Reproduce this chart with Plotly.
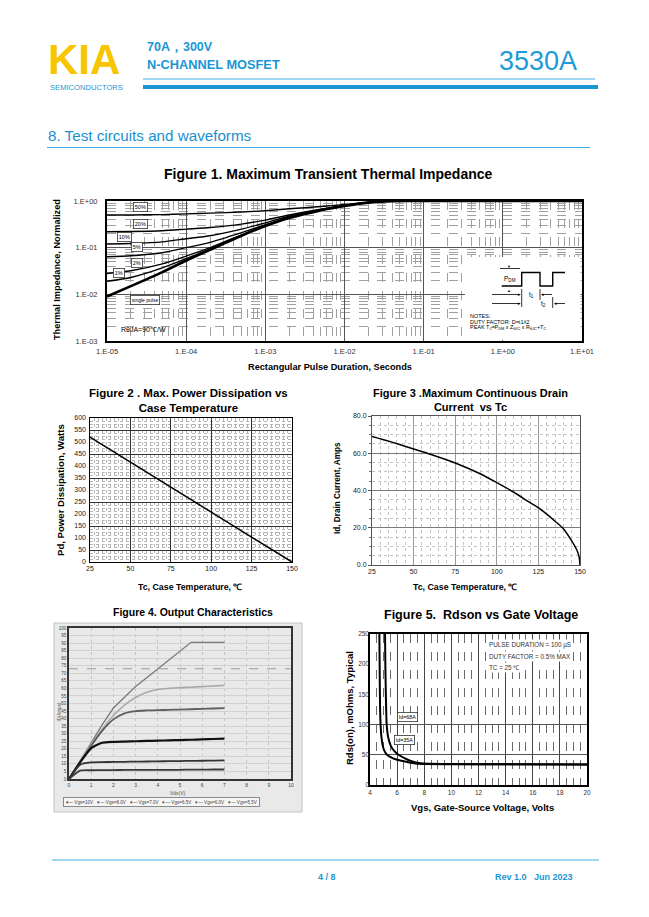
import plotly.graph_objects as go

# The page body keeps the browser's default 8px margin, so the figure is drawn
# 8px in from the window's corner; size and map it so that it fills the window.
OFF = 8
W, H = 649 - OFF, 917 - OFF
SANS = "Liberation Sans, Arial, sans-serif"
BLUE = "#1a96d4"
LBLUE = "#3aaee0"


def px(x):
    return (x - OFF) / W


def py(y):
    return 1 - (y - OFF) / H


# ---------------- DATA ----------------
# Figure 1: transient thermal impedance (normalized) vs pulse duration
f1_t = [1e-5, 2e-5, 5e-5, 1e-4, 2e-4, 5e-4, 1e-3, 2e-3, 5e-3, 1e-2, 2e-2, 4e-2, 1e-1, 1e0, 1e1]
f1_single = [0.009, 0.015, 0.030, 0.053, 0.090, 0.180, 0.290, 0.430, 0.630, 0.780, 0.920, 0.995, 1.0, 1.0, 1.0]
f1_d01 = [0.019, 0.023, 0.037, 0.058, 0.094, 0.183, 0.292, 0.432, 0.632, 0.782, 0.922, 0.995, 1.0, 1.0, 1.0]
f1_d02 = [0.028, 0.032, 0.045, 0.066, 0.100, 0.188, 0.296, 0.436, 0.635, 0.785, 0.924, 0.995, 1.0, 1.0, 1.0]
f1_d05 = [0.064, 0.067, 0.078, 0.100, 0.130, 0.210, 0.310, 0.445, 0.642, 0.790, 0.927, 0.995, 1.0, 1.0, 1.0]
f1_d10 = [0.120, 0.123, 0.133, 0.155, 0.180, 0.250, 0.340, 0.470, 0.655, 0.798, 0.930, 0.995, 1.0, 1.0, 1.0]
f1_d20 = [0.220, 0.222, 0.231, 0.250, 0.270, 0.320, 0.390, 0.500, 0.670, 0.808, 0.935, 0.995, 1.0, 1.0, 1.0]
f1_d50 = [0.500, 0.502, 0.511, 0.530, 0.550, 0.580, 0.620, 0.680, 0.760, 0.840, 0.950, 0.998, 1.0, 1.0, 1.0]
f1_xtickvals = [1e-5, 1e-4, 1e-3, 1e-2, 1e-1, 1e0, 1e1]
f1_xticktext = ["1.E-05", "1.E-04", "1.E-03", "1.E-02", "1.E-01", "1.E+00", "1.E+01"]
f1_ytickvals = [1e-3, 1e-2, 1e-1, 1e0]
f1_yticktext = ["1.E-03", "1.E-02", "1.E-01", "1.E+00"]

# Figure 2: max power dissipation vs case temperature
f2_tc = [25, 150]
f2_pd = [520, 0]
f2_xticks = [25, 50, 75, 100, 125, 150]
f2_yticks = [0, 50, 100, 150, 200, 250, 300, 350, 400, 450, 500, 550, 600]
f2_solid_grid = [50, 150, 250, 350, 450, 550]

# Figure 3: max continuous drain current vs Tc
f3_tc = [25, 35, 50, 60, 75, 90, 100, 110, 120, 125, 130, 135, 140, 145, 148, 149.5, 150]
f3_id = [69, 66.5, 62.3, 59.5, 54.8, 49, 44.2, 39.2, 33.5, 30.8, 27.3, 23.5, 19.5, 13, 8.3, 4.2, 0]
f3_xticks = [25, 50, 75, 100, 125, 150]
f3_yticks = [0, 20, 40, 60, 80]

# Figure 4: output characteristics
f4_vds = [0, 0.5, 1, 1.5, 2, 2.5, 3, 3.5, 4, 4.5, 5, 5.5, 6, 6.5, 7]
f4_c1 = [0, 12, 24, 36, 47, 54.5, 61.3, 67, 72.8, 78.5, 84.5, 90.5, 90.5, 90.5, 90.5]
f4_c2 = [0, 11.5, 23, 33, 42, 49, 54, 57.5, 59.3, 60, 60.5, 60.8, 61.2, 61.6, 62]
f4_c3 = [0, 11, 22, 32, 39.5, 43.5, 45, 45.4, 45.6, 45.8, 46, 46.2, 46.5, 46.7, 47]
f4_c4 = [0, 11, 20.5, 24, 24.6, 24.8, 25, 25.2, 25.4, 25.6, 25.8, 26, 26.2, 26.5, 26.7]
f4_c5 = [0, 9.5, 11, 11.2, 11.3, 11.4, 11.5, 11.6, 11.7, 11.8, 11.9, 12, 12.1, 12.2, 12.3]
f4_c6 = [0, 5.5, 5.8, 5.9, 5.9, 6, 6, 6, 6.1, 6.1, 6.1, 6.2, 6.2, 6.3, 6.3]
f4_names = ["Vgs=10V", "Vgs=8.0V", "Vgs=7.0V", "Vgs=6.5V", "Vgs=6.0V", "Vgs=5.5V"]
f4_ref_x = [0, 10]
f4_ref_level = [73, 73]

# Figure 5: Rdson vs gate voltage
f5_vgs_a = [4.69, 4.71, 4.74, 4.78, 4.85, 5.0, 5.25, 5.7, 6.3, 7.0, 7.6, 10, 14, 20]
f5_r_a = [250, 200, 130, 100, 78, 60, 50, 44, 40, 37, 35, 34.5, 34.2, 34]
f5_vgs_b = [5.11, 5.13, 5.17, 5.23, 5.35, 5.55, 5.8, 6.1, 6.5, 7.0, 7.7, 10, 14, 20]
f5_r_b = [250, 200, 150, 100, 78, 64, 56, 50, 45, 40, 36, 34.6, 34.3, 34.1]
f5_solid_grid = [50, 100]

# ---------------- FIGURE ----------------
fig = go.Figure()


def add_line(x, y, xa, ya, color="black", width=1.5, dash="solid", shape="spline", name=None):
    fig.add_trace(go.Scatter(
        x=x, y=y, xaxis=xa, yaxis=ya, mode="lines", name=name,
        line=dict(color=color, width=width, dash=dash, shape=shape, smoothing=0.6),
        showlegend=False, hoverinfo="skip"))


def empty(xa, ya):
    fig.add_trace(go.Scatter(x=[None], y=[None], xaxis=xa, yaxis=ya, mode="lines",
                             showlegend=False, hoverinfo="skip"))


# Figure 1 traces
for ser, w in [(f1_d50, 1.4), (f1_d20, 1.4), (f1_d10, 1.4), (f1_d05, 1.4),
               (f1_d02, 1.4), (f1_d01, 1.4), (f1_single, 2.6)]:
    add_line(f1_t, ser, "x", "y", width=w)

# Figure 2
empty("x2", "y2")
add_line(f2_tc, f2_pd, "x2", "y6", width=1.5, shape="linear")

# Figure 3
add_line(f3_tc, f3_id, "x3", "y3", width=1.5)

# Figure 4
add_line(f4_ref_x, f4_ref_level, "x4", "y4", color="#9a9a9a", width=1, dash="dash", shape="linear")
add_line(f4_vds, f4_c1, "x4", "y4", color="#7a7a7a", width=1.3, shape="linear", name=f4_names[0])
add_line(f4_vds, f4_c2, "x4", "y4", color="#a9a9a9", width=1.6, name=f4_names[1])
add_line(f4_vds, f4_c3, "x4", "y4", color="#5e5e5e", width=1.8, name=f4_names[2])
add_line(f4_vds, f4_c4, "x4", "y4", color="#111111", width=2.2, name=f4_names[3])
add_line(f4_vds, f4_c5, "x4", "y4", color="#333333", width=1.8, name=f4_names[4])
add_line(f4_vds, f4_c6, "x4", "y4", color="#3a3a3a", width=1.8, name=f4_names[5])

# Figure 5
empty("x5", "y5")
add_line(f5_vgs_a, f5_r_a, "x5", "y7", width=2.0)
add_line(f5_vgs_b, f5_r_b, "x5", "y7", width=2.0)

tick_small = dict(family=SANS, size=7, color="#222")

layout = dict(
    template="none",
    width=W, height=H, autosize=False,
    margin=dict(l=0, r=0, t=0, b=0, pad=0, autoexpand=False),
    paper_bgcolor="white", plot_bgcolor="white",
    showlegend=False,
    font=dict(family=SANS, color="black"),
    # ---- Figure 1
    xaxis=dict(domain=[px(107), px(582)], anchor="y", type="log", range=[-5, 1], automargin=False,
               tickmode="array", tickvals=f1_xtickvals, ticktext=f1_xticktext,
               tickfont=dict(family=SANS, size=7.5, color="#333"), ticks="", ticklabelstandoff=2,
               showgrid=True, gridcolor="#555", gridwidth=1,
               minor=dict(dtick="D1", showgrid=True, gridcolor="#a0a0a0", griddash="dash", gridwidth=0.8),
               showline=True, linecolor="black", linewidth=2, mirror=True, zeroline=False),
    yaxis=dict(domain=[py(341), py(201)], anchor="x", type="log", range=[-3, 0], automargin=False,
               tickmode="array", tickvals=f1_ytickvals, ticktext=f1_yticktext,
               tickfont=dict(family=SANS, size=7.5, color="#333"), ticks="", ticklabelstandoff=6,
               showgrid=True, gridcolor="#555", gridwidth=1,
               minor=dict(dtick="D1", showgrid=True, gridcolor="#a0a0a0", griddash="dash", gridwidth=0.8),
               showline=True, linecolor="black", linewidth=2, mirror=True, zeroline=False),
    # ---- Figure 2
    xaxis2=dict(domain=[px(90), px(292)], anchor="y2", range=[25, 150], automargin=False,
                tickmode="array", tickvals=f2_xticks, tickfont=tick_small, ticks="",
                showgrid=True, gridcolor="#333", gridwidth=1,
                minor=dict(tick0=25, dtick=2.5, showgrid=True, gridcolor="#b4b4b4", griddash="dot", gridwidth=0.7),
                showline=True, linecolor="black", linewidth=1, mirror=True, zeroline=False),
    yaxis2=dict(domain=[py(562), py(418)], anchor="x2", range=[0, 600], automargin=False,
                tickmode="array", tickvals=f2_solid_grid, showticklabels=False, ticks="",
                showgrid=True, gridcolor="#333", gridwidth=1,
                minor=dict(tick0=0, dtick=12.5, showgrid=True, gridcolor="#b4b4b4", griddash="dot", gridwidth=0.7),
                showline=True, linecolor="black", linewidth=1, mirror=True, zeroline=False),
    yaxis6=dict(overlaying="y2", anchor="x2", side="left", range=[0, 600], automargin=False,
                tickmode="array", tickvals=f2_yticks, tickfont=tick_small, ticks="", ticklabelstandoff=3,
                showgrid=False, zeroline=False, showline=False),
    # ---- Figure 3
    xaxis3=dict(domain=[px(372), px(580)], anchor="y3", range=[25, 150], automargin=False,
                tickmode="array", tickvals=f3_xticks, tickfont=tick_small, ticks="",
                showgrid=True, gridcolor="#9a9a9a", gridwidth=1,
                minor=dict(tick0=25, dtick=5, showgrid=True, gridcolor="#c4c4c4", griddash="dot", gridwidth=0.8),
                showline=True, linecolor="#555", linewidth=1, mirror=True, zeroline=False),
    yaxis3=dict(domain=[py(565), py(416)], anchor="x3", range=[0, 80], automargin=False,
                tickmode="array", tickvals=f3_yticks, tickformat=".1f", tickfont=tick_small,
                ticks="outside", ticklen=3, tickcolor="#555",
                showgrid=True, gridcolor="#7a7a7a", gridwidth=1,
                minor=dict(tick0=0, dtick=5, showgrid=True, gridcolor="#c4c4c4", griddash="dot", gridwidth=0.8,
                           ticks="outside", ticklen=2, tickcolor="#777"),
                showline=True, linecolor="#555", linewidth=1, mirror=True, zeroline=False),
    # ---- Figure 4
    xaxis4=dict(domain=[px(69), px(291)], anchor="y4", range=[0, 10], dtick=1, automargin=False,
                tickfont=dict(family=SANS, size=5, color="#444"), ticks="",
                showgrid=True, gridcolor="#c4c4c4", griddash="dot", gridwidth=1,
                showline=True, linecolor="#333", linewidth=1.5, mirror=True, zeroline=False),
    yaxis4=dict(domain=[py(779), py(628)], anchor="x4", range=[0, 100], dtick=5, automargin=False,
                tickfont=dict(family=SANS, size=4.5, color="#444"), ticks="",
                showgrid=True, gridcolor="#d2d2d2", gridwidth=1,
                showline=True, linecolor="#333", linewidth=1.5, mirror=True, zeroline=False),
    # ---- Figure 5
    xaxis5=dict(domain=[px(370), px(587)], anchor="y5", range=[4, 20], tick0=4, dtick=2, automargin=False,
                tickfont=dict(family=SANS, size=6.5, color="#333"), ticks="",
                showgrid=True, gridcolor="#444", gridwidth=1,
                minor=dict(tick0=4, dtick=0.5, showgrid=True, gridcolor="#6a6a6a", griddash="dash", gridwidth=1),
                showline=True, linecolor="black", linewidth=2, mirror=True, zeroline=False),
    yaxis5=dict(domain=[py(785), py(634)], anchor="x5", range=[0, 250], automargin=False,
                tickmode="array", tickvals=f5_solid_grid, showticklabels=False, ticks="",
                showgrid=True, gridcolor="#555", gridwidth=1,
                showline=True, linecolor="black", linewidth=2, mirror=True, zeroline=False),
    yaxis7=dict(overlaying="y5", anchor="x5", side="left", range=[0, 250], dtick=50, automargin=False,
                tickfont=dict(family=SANS, size=6.5, color="#333"), ticks="",
                showgrid=False, zeroline=False, showline=False),
)

ann = []


def text(x, y, s, size, color="black", xanchor="center", yanchor="middle", angle=0, **kw):
    ann.append(dict(x=px(x), y=py(y), xref="paper", yref="paper", text=s, showarrow=False,
                    font=dict(family=SANS, size=size, color=color), xanchor=xanchor,
                    yanchor=yanchor, textangle=angle, **kw))


def boxed(x, y, s, size=5.5):
    text(x, y, s, size, bordercolor="#333", borderwidth=0.8, borderpad=1, bgcolor="white")


shapes = []


def hline(y, x0, x1, color, width, layer="above"):
    shapes.append(dict(type="line", xref="paper", yref="paper", x0=px(x0), x1=px(x1),
                       y0=py(y), y1=py(y), line=dict(color=color, width=width), layer=layer))


def vline(x, y0, y1, color="black", width=0.8):
    shapes.append(dict(type="line", xref="paper", yref="paper", x0=px(x), x1=px(x),
                       y0=py(y0), y1=py(y1), line=dict(color=color, width=width), layer="above"))


# ---- Header
text(46, 59, "<b>KIA</b>", 42, color="#f7c600", xanchor="left")
text(48, 87, "SEMICONDUCTORS", 7.6, color=BLUE, xanchor="left")
text(145, 47, "<b>70A，300V</b>", 12.5, color=BLUE, xanchor="left")
text(145, 64, "<b>N-CHANNEL MOSFET</b>", 12.8, color=BLUE, xanchor="left")
text(579, 61, "3530A", 27, color="#1e9bd7", xanchor="right")
hline(79, 143, 595, LBLUE, 1)
hline(87, 143, 598, BLUE, 4)
text(46, 136, "8. Test circuits and waveforms", 15.2, color="#1a8fd0", xanchor="left")
hline(147.5, 47, 590, LBLUE, 1)

# ---- Footer
hline(860, 52, 599, LBLUE, 1.2)
text(327, 877, "<b>4 / 8</b>", 9, color=BLUE)
text(575, 877, "<b>Rev 1.0   Jun 2023</b>", 9, color=BLUE, xanchor="right")

# ---- Figure 1 texts
text(328, 174, "<b>Figure 1. Maximum Transient Thermal Impedance</b>", 14)
text(57, 270, "<b>Thermal Impedance, Normalized</b>", 9.2, angle=-90)
text(330, 367, "<b>Rectangular Pulse Duration, Seconds</b>", 9.2)
boxed(140, 207, "50%")
boxed(140, 224, "20%")
boxed(124.5, 236.5, "10%")
boxed(136.5, 247, "5%")
boxed(137, 263, "2%")
boxed(118.5, 273, "1%")
boxed(144.5, 299.5, "single pulse", 5)
text(143, 330, "RθJA=90℃/W", 7)

# inset area of figure 1
shapes.append(dict(type="rect", xref="paper", yref="paper", x0=px(465), x1=px(580.5),
                   y0=py(340), y1=py(257), fillcolor="white", line=dict(width=0), layer="above"))
wave = [(501.7, 286), (521.7, 286), (521.7, 272.5), (540, 272.5), (540, 286),
        (552.7, 286), (552.7, 272.5), (565, 272.5)]
path = "M " + " L ".join(f"{px(a):.5f},{py(b):.5f}" for a, b in wave)
shapes.append(dict(type="path", xref="paper", yref="paper", path=path,
                   line=dict(color="black", width=1.4), layer="above"))
hline(268.5, 500, 520, "black", 0.8)
text(509.5, 266.5, "▼", 4)
text(509.5, 290, "▲", 4)
text(510, 279, "P<sub>DM</sub>", 6.5)
vline(521.7, 289, 307)
vline(540, 289, 300)
vline(552.7, 297, 308)
hline(294.5, 492, 520, "black", 0.8)
text(518.5, 294.5, "►", 4.5)
hline(294.5, 542, 552, "black", 0.8)
text(542, 294.5, "◄", 4.5)
hline(303.5, 492, 520, "black", 0.8)
text(518.5, 303.5, "►", 4.5)
hline(303.5, 555, 565, "black", 0.8)
text(555, 303.5, "◄", 4.5)
text(531, 294.5, "t<sub>1</sub>", 6.5)
text(543.5, 304, "t<sub>2</sub>", 6.5)
text(468, 316, "NOTES:", 5.5, xanchor="left")
text(468, 321.5, "DUTY FACTOR: D=t1/t2", 5.5, xanchor="left")
text(468, 327.5, "PEAK T<sub>J</sub>=P<sub>DM</sub> x Z<sub>θJC</sub> x R<sub>θJC</sub>+T<sub>C</sub>", 5.5,
     xanchor="left")

# ---- Figure 2 texts
text(188, 400, "<b>Figure 2 . Max. Power Dissipation vs<br>Case Temperature</b>", 11.5)
text(60, 490, "<b>Pd, Power Dissipation, Watts</b>", 9.6, angle=-90)
text(190, 587, "<b>Tc, Case Temperature, ℃</b>", 8.8)

# ---- Figure 3 texts
text(470, 400, "<b>Figure 3 .Maximum Continuous Drain<br>Current  vs Tc</b>", 11)
text(338, 488, "<b>Id, Drain Current, Amps</b>", 8.2, angle=-90)
text(465, 587, "<b>Tc, Case Temperature, ℃</b>", 8.8)

# ---- Figure 4 frame and texts
shapes.append(dict(type="rect", xref="paper", yref="paper", x0=px(54), x1=px(302),
                   y0=py(812), y1=py(623), fillcolor="#e9e9e9",
                   line=dict(color="#c2c2c2", width=1), layer="below"))
text(193, 612, "<b>Figure 4. Output Characteristics</b>", 10.5)
text(58.5, 712, "ID(Amps)", 4.5, color="#555", angle=-90)
text(178, 792.5, "Vds(V)", 5, color="#555")
legend_txt = "   ".join("▾— " + n for n in f4_names)
text(161, 801.5, legend_txt, 4.6, color="#444", bordercolor="#8a8a8a", borderwidth=1,
     borderpad=1.5, bgcolor="#f6f6f6")

# ---- Figure 5 texts
text(481, 615, "<b>Figure 5.  Rdson vs Gate Voltage</b>", 12.5)
text(349, 708, "<b>Rds(on), mOhms, Typical</b>", 9.5, angle=-90)
text(482, 807, "<b>Vgs, Gate-Source Voltage, Volts</b>", 9.5)
text(487, 645, "PULSE DURATION = 100 µS", 6.3, color="#333", xanchor="left", bgcolor="white")
text(487, 656.5, "DUTY FACTOR = 0.5% MAX", 6.3, color="#333", xanchor="left", bgcolor="white")
text(487, 667, "TC = 25 ℃", 6.3, color="#333", xanchor="left", bgcolor="white")
boxed(407.5, 717, "Id=68A", 5.3)
boxed(404, 740, "Id=35A", 5.3)

layout["annotations"] = ann
layout["shapes"] = shapes
fig.update_layout(**layout)
fig.write_html("out.html")
